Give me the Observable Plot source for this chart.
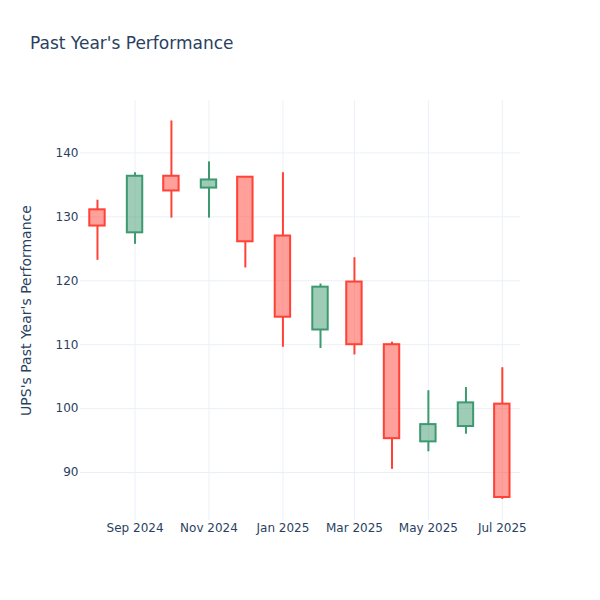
<!DOCTYPE html>
<html>
<head>
<meta charset="utf-8">
<script src="https://cdn.jsdelivr.net/npm/d3@7"></script>
<script src="https://cdn.jsdelivr.net/npm/@observablehq/plot@0.6"></script>
<style>
  html, body { margin: 0; padding: 0; background: #fff; }
  #wrap { width: 600px; height: 600px; position: relative; font-family: "DejaVu Sans", sans-serif; }
  #title { position: absolute; left: 30px; top: 33px; font-size: 17px; line-height: 20px; color: #2a3f5f; white-space: nowrap; }
  #chart { position: absolute; left: 0; top: 90px; }
</style>
</head>
<body>
<div id="wrap">
  <div id="title">Past Year's Performance</div>
  <div id="chart"></div>
</div>
<script>
const months = ["2024-08-01","2024-09-01","2024-10-01","2024-11-01","2024-12-01","2025-01-01","2025-02-01","2025-03-01","2025-04-01","2025-05-01","2025-06-01","2025-07-01"];
const openV  = [131.1, 127.5, 136.35, 134.5, 136.2, 127.0, 112.3, 119.8, 110.0, 94.8, 97.2, 100.7];
const highV  = [132.6, 136.9, 145.0, 138.6, 136.2, 136.9, 119.5, 123.6, 110.4, 102.8, 103.3, 106.4];
const lowV   = [123.2, 125.7, 129.8, 129.8, 122.0, 109.6, 109.4, 108.4, 90.5, 93.25, 96.0, 85.8];
const closeV = [128.56, 136.35, 134.05, 135.77, 126.1, 114.3, 119.0, 110.0, 95.3, 97.5, 100.9, 86.1];
const yTicks = [90, 100, 110, 120, 130, 140];
const xTicks = ["2024-09-01","2024-11-01","2025-01-01","2025-03-01","2025-05-01","2025-07-01"];

const data = months.map((m, i) => ({
  date: new Date(m + "T00:00:00Z"),
  open: openV[i], high: highV[i], low: lowV[i], close: closeV[i]
}));
const halfMs = 6.35 * 24 * 3600 * 1000;
const upLine = "#3D9970", downLine = "#FF4136";
const upFill = "rgba(61,153,112,0.5)", downFill = "rgba(255,65,54,0.5)";
const col = d => d.close >= d.open ? upLine : downLine;
const fil = d => d.close >= d.open ? upFill : downFill;
const grid = "#EBF0F8";

const chart = Plot.plot({
  width: 600,
  height: 510,
  marginTop: 10,
  marginBottom: 80,
  marginLeft: 80,
  marginRight: 80,
  style: { fontFamily: "DejaVu Sans, sans-serif", fontSize: "12px", color: "#2a3f5f", background: "#fff" },
  x: {
    type: "utc",
    domain: [new Date("2024-07-18T00:00:00Z"), new Date("2025-07-16T00:00:00Z")]
  },
  y: { domain: [82.5, 148.2] },
  marks: [
    Plot.gridX(xTicks.map(t => new Date(t + "T00:00:00Z")), { stroke: grid, strokeOpacity: 1, strokeWidth: 1 }),
    Plot.gridY(yTicks, { stroke: grid, strokeOpacity: 1, strokeWidth: 1 }),
    Plot.axisX(xTicks.map(t => new Date(t + "T00:00:00Z")), {
      tickSize: 0, tickPadding: 3, tickFormat: d3.utcFormat("%b %Y"),
      fill: "#2a3f5f", label: null, fontSize: 12
    }),
    Plot.axisY(yTicks, {
      tickSize: 0, tickPadding: 2, tickFormat: d3.format("d"),
      fill: "#2a3f5f", fontSize: 12,
      label: "UPS's Past Year's Performance", labelAnchor: "center", labelArrow: "none", labelOffset: 59
    }),
    Plot.ruleX(data, { x: "date", y1: d => Math.max(d.open, d.close), y2: "high", stroke: col, strokeWidth: 2 }),
    Plot.ruleX(data, { x: "date", y1: "low", y2: d => Math.min(d.open, d.close), stroke: col, strokeWidth: 2 }),
    Plot.rect(data, {
      x1: d => new Date(+d.date - halfMs),
      x2: d => new Date(+d.date + halfMs),
      y1: "open", y2: "close",
      fill: fil, stroke: col, strokeWidth: 2
    })
  ]
});
// style the y axis label font size
chart.querySelectorAll("g[aria-label='y-axis label'] text").forEach(t => { t.setAttribute("font-size", "14"); t.setAttribute("fill", "#2a3f5f"); });
document.getElementById("chart").appendChild(chart);
</script>
</body>
</html>
